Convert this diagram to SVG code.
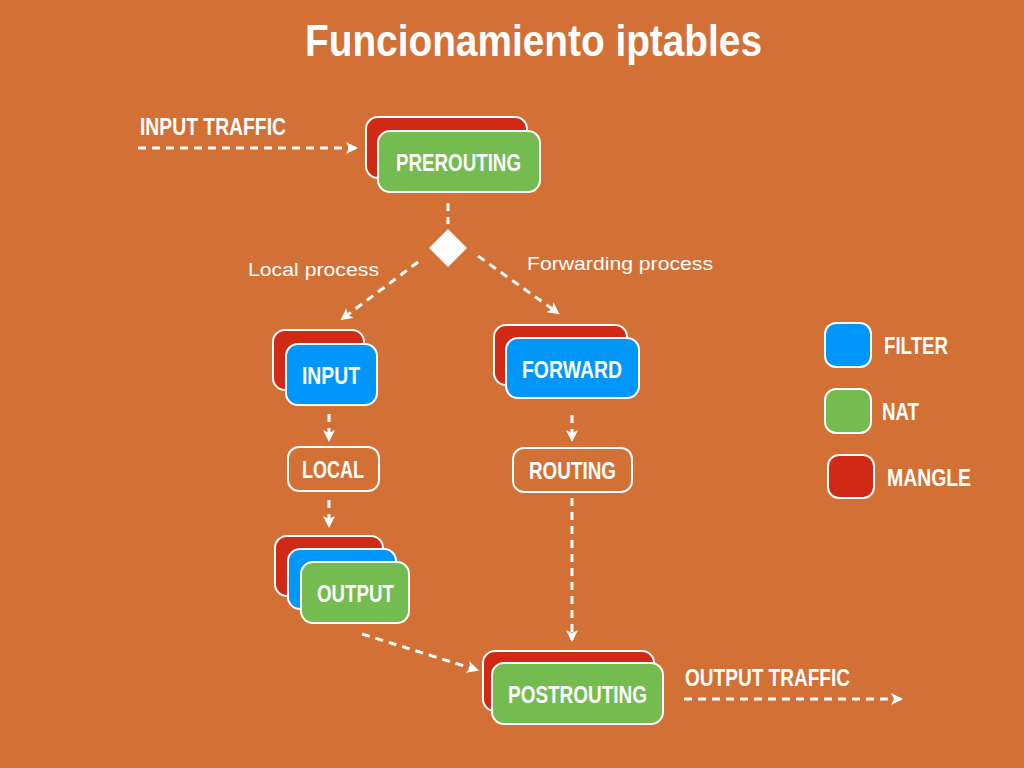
<svg xmlns="http://www.w3.org/2000/svg" width="1024" height="768" viewBox="0 0 1024 768">
<defs>
<marker id="ah" viewBox="0 0 12 12" refX="10" refY="6" markerWidth="12" markerHeight="12" markerUnits="userSpaceOnUse" orient="auto">
<path d="M0,0 L12,6 L0,12 L3,6 z" fill="#fff"/>
</marker>
<style>
.bg{fill:#D27036}
.r{fill:#D02A16;stroke:#fff;stroke-width:2}
.g{fill:#74BB50;stroke:#fff;stroke-width:2}
.b{fill:#0096FA;stroke:#fff;stroke-width:2}
.o{fill:none;stroke:#fff;stroke-width:2}
.lbl{font-family:"Liberation Sans Narrow","Liberation Sans",Arial,sans-serif;font-weight:bold;fill:#fff;font-size:24px}
.reg{font-family:"Liberation Sans",Arial,sans-serif;fill:#fff;font-size:19px}
.c{stroke:#fff;stroke-width:3;stroke-dasharray:8 6;fill:none}
</style>
</defs>
<rect class="bg" x="0" y="0" width="1024" height="768"/>
<text class="lbl" x="305" y="56" style="font-size:45px" textLength="457" lengthAdjust="spacingAndGlyphs">Funcionamiento iptables</text>

<g id="connectors">
<line class="c" x1="138" y1="148" x2="356" y2="148" marker-end="url(#ah)"/>
<line class="c" x1="448" y1="203" x2="448" y2="224"/>
<line class="c" x1="418" y1="262" x2="342" y2="319" marker-end="url(#ah)"/>
<line class="c" x1="478" y1="256" x2="558" y2="313" marker-end="url(#ah)"/>
<line class="c" x1="329" y1="414" x2="329" y2="440" marker-end="url(#ah)"/>
<line class="c" x1="572" y1="415" x2="572" y2="440" marker-end="url(#ah)"/>
<line class="c" x1="329" y1="500" x2="329" y2="526" marker-end="url(#ah)"/>
<line class="c" x1="572" y1="498" x2="572" y2="640" marker-end="url(#ah)"/>
<line class="c" x1="362" y1="634" x2="477" y2="670" marker-end="url(#ah)"/>
<line class="c" x1="684" y1="699" x2="901" y2="699" marker-end="url(#ah)"/>
</g>

<text class="lbl" x="140" y="135" style="font-size:23px" textLength="146" lengthAdjust="spacingAndGlyphs">INPUT TRAFFIC</text>
<text class="lbl" x="685" y="686" style="font-size:23px" textLength="165" lengthAdjust="spacingAndGlyphs">OUTPUT TRAFFIC</text>
<text class="reg" x="248" y="276" textLength="131" lengthAdjust="spacingAndGlyphs">Local process</text>
<text class="reg" x="527" y="270" textLength="186" lengthAdjust="spacingAndGlyphs">Forwarding process</text>

<g id="prerouting">
<rect class="r" x="366" y="117" width="161" height="61" rx="12"/>
<rect class="g" x="378" y="131" width="162" height="61" rx="12"/>
<text class="lbl" x="396" y="171" textLength="125" lengthAdjust="spacingAndGlyphs">PREROUTING</text>
</g>

<g id="decision">
<polygon points="448,229 467,248 448,267 429,248" fill="#fff"/>
</g>

<g id="input">
<rect class="r" x="273" y="330" width="91" height="60" rx="12"/>
<rect class="b" x="286" y="344" width="91" height="61" rx="12"/>
<text class="lbl" x="302" y="384" textLength="58" lengthAdjust="spacingAndGlyphs">INPUT</text>
</g>

<g id="forward">
<rect class="r" x="494" y="325" width="133" height="60" rx="12"/>
<rect class="b" x="506" y="338" width="133" height="60" rx="12"/>
<text class="lbl" x="522" y="378" textLength="100" lengthAdjust="spacingAndGlyphs">FORWARD</text>
</g>

<g id="local">
<rect class="o" x="288" y="447" width="91" height="44" rx="11"/>
<text class="lbl" x="302" y="478" textLength="62" lengthAdjust="spacingAndGlyphs">LOCAL</text>
</g>

<g id="routing">
<rect class="o" x="513" y="448" width="119" height="44" rx="11"/>
<text class="lbl" x="529" y="479" textLength="87" lengthAdjust="spacingAndGlyphs">ROUTING</text>
</g>

<g id="output">
<rect class="r" x="275" y="536" width="108" height="60" rx="12"/>
<rect class="b" x="288" y="549" width="108" height="60" rx="12"/>
<rect class="g" x="301" y="562" width="108" height="61" rx="12"/>
<text class="lbl" x="317" y="602" textLength="77" lengthAdjust="spacingAndGlyphs">OUTPUT</text>
</g>

<g id="postrouting">
<rect class="r" x="483" y="651" width="171" height="60" rx="12"/>
<rect class="g" x="492" y="663" width="171" height="61" rx="12"/>
<text class="lbl" x="508" y="703" textLength="139" lengthAdjust="spacingAndGlyphs">POSTROUTING</text>
</g>

<g id="legend-filter">
<rect class="b" x="825" y="323" width="46" height="44" rx="11"/>
<text class="lbl" x="884" y="354" textLength="64" lengthAdjust="spacingAndGlyphs">FILTER</text>
</g>
<g id="legend-nat">
<rect class="g" x="825" y="389" width="46" height="44" rx="11"/>
<text class="lbl" x="882" y="420" textLength="37" lengthAdjust="spacingAndGlyphs">NAT</text>
</g>
<g id="legend-mangle">
<rect class="r" x="828" y="455" width="46" height="43" rx="11"/>
<text class="lbl" x="887" y="486" textLength="84" lengthAdjust="spacingAndGlyphs">MANGLE</text>
</g>
</svg>
